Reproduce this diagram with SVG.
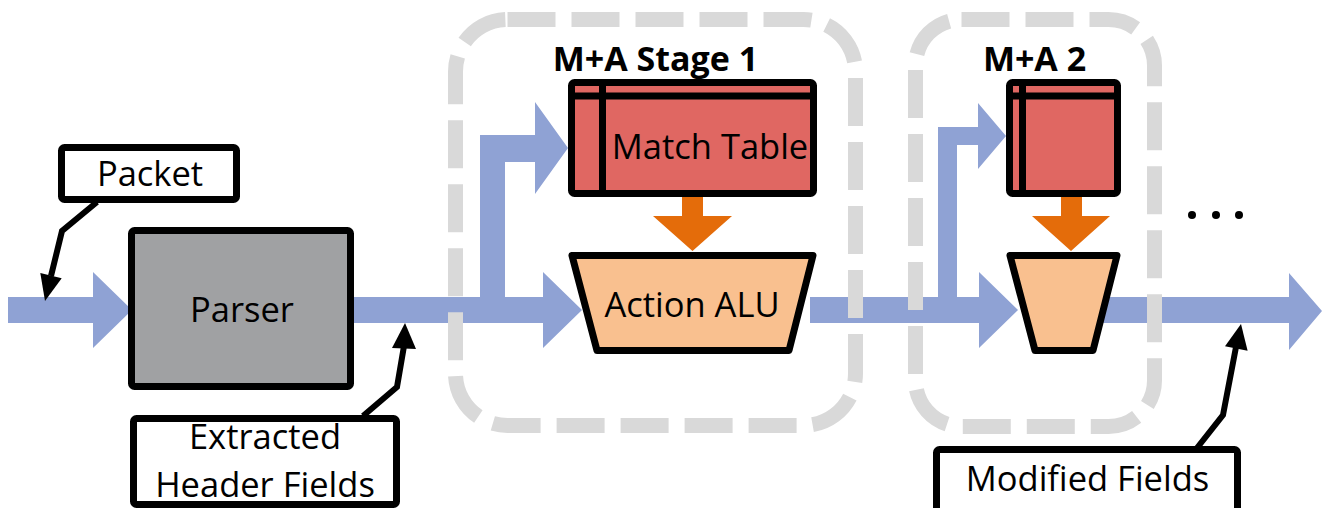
<svg xmlns="http://www.w3.org/2000/svg" width="1322" height="508" viewBox="0 0 1322 508">
  <style>
    .lbl { font-family: "Open Sans", "Liberation Sans", sans-serif; font-size: 34.5px; fill: #000; text-anchor: middle; }
    .hdr { font-family: "Open Sans", "Liberation Sans", sans-serif; font-size: 34px; font-weight: bold; fill: #000; text-anchor: middle; }
    .box { fill: #fff; stroke: #000; stroke-width: 7; stroke-linejoin: round; }
    .flow { fill: #8fa2d4; }
    .ctl { fill: #e46c0a; }
    .stage { fill: none; stroke: #d9d9d9; stroke-width: 15; stroke-dasharray: 48 16; }
    .table { fill: #e06762; stroke: #000; stroke-width: 7; stroke-linejoin: round; }
    .alu { fill: #f9c08f; stroke: #000; stroke-width: 7; stroke-linejoin: round; }
    .call { fill: none; stroke: #000; stroke-width: 6; stroke-linejoin: miter; }
    .head { fill: #000; }
  </style>

  <rect width="1322" height="508" fill="#fff"/>

  <!-- data-path connectors (blue) and table-to-ALU connectors (orange) -->
  <g id="connectors">
    <path class="flow" d="M8,297 H93 V272 L132,310 L93,348 V323 H8 Z"/>
    <path class="flow" d="M350,297 H480 V135 H535 V102 L568,148 L535,194 V162 H505 V297 H543 V272 L582,310 L543,348 V323 H350 Z"/>
    <path class="flow" d="M810,297 H938 V127 H978 V103 L1006,136 L978,169 V145 H957 V297 H979 V272 L1018,310 L979,348 V323 H810 Z"/>
    <path class="flow" d="M1090,297 H1289 V273 L1322,311 L1289,350 V323 H1090 Z"/>
    <path class="ctl" d="M682,195 H703 V216 H732 L692.5,251 L653,216 H682 Z"/>
    <path class="ctl" d="M1061,195 H1082 V216 H1110 L1071,251 L1032,216 H1061 Z"/>
  </g>

  <!-- match+action stage outlines -->
  <g id="stage1">
    <rect class="stage" x="455.5" y="19.5" width="400" height="406" rx="52"/>
    <text class="hdr" x="655.5" y="71">M+A Stage 1</text>
  </g>
  <g id="stage2">
    <rect class="stage" x="915.5" y="19.5" width="239" height="407" rx="46"/>
    <text class="hdr" x="1034.5" y="71">M+A 2</text>
  </g>

  <!-- parser -->
  <g id="parser">
    <rect x="131.5" y="230.5" width="219" height="156" rx="3" fill="#a0a1a3" stroke="#000" stroke-width="7"/>
    <text class="lbl" x="242" y="322">Parser</text>
  </g>

  <!-- stage 1 units -->
  <g id="match-table-1">
    <rect class="table" x="571.5" y="82.5" width="242" height="111" rx="3"/>
    <line x1="571.5" y1="96" x2="813.5" y2="96" stroke="#000" stroke-width="7"/>
    <line x1="602.5" y1="82.5" x2="602.5" y2="193.5" stroke="#000" stroke-width="7"/>
    <text class="lbl" x="710" y="159">Match Table</text>
  </g>
  <g id="action-alu-1">
    <polygon class="alu" points="572,255.5 813,255.5 789,350.5 597,350.5"/>
    <text class="lbl" x="692" y="317">Action ALU</text>
  </g>

  <!-- stage 2 units -->
  <g id="match-table-2">
    <rect class="table" x="1009.5" y="82.5" width="108" height="111" rx="3"/>
    <line x1="1009.5" y1="96" x2="1117.5" y2="96" stroke="#000" stroke-width="7"/>
    <line x1="1022.5" y1="82.5" x2="1022.5" y2="193.5" stroke="#000" stroke-width="7"/>
  </g>
  <g id="action-alu-2">
    <polygon class="alu" points="1010,255.5 1117,255.5 1093,350.5 1035,350.5"/>
  </g>

  <!-- continuation marks -->
  <g id="ellipsis" fill="#000">
    <circle cx="1192" cy="215" r="4"/>
    <circle cx="1216" cy="215" r="4"/>
    <circle cx="1239" cy="215" r="4"/>
  </g>

  <!-- callouts -->
  <g id="packet-callout">
    <rect class="box" x="61.5" y="147.5" width="175" height="52" rx="3"/>
    <text class="lbl" x="150" y="186">Packet</text>
    <polyline class="call" points="97,202 62,231 51,276"/>
    <polygon class="head" points="61.7,278.3 40.3,273.1 45,301"/>
  </g>
  <g id="extracted-callout">
    <polyline class="call" points="363,416 397,387 404,346"/>
    <polygon class="head" points="392,348 416,349 405,323"/>
    <rect class="box" x="133.5" y="418.5" width="263" height="86" rx="3"/>
    <text class="lbl" x="265" y="449">Extracted</text>
    <text class="lbl" x="265" y="497">Header Fields</text>
  </g>
  <g id="modified-callout">
    <polyline class="call" points="1197,448 1223,415 1236,347"/>
    <polygon class="head" points="1247.6,350.8 1225,346.3 1241,324"/>
    <rect class="box" x="936.5" y="449.5" width="301" height="70" rx="3"/>
    <text class="lbl" x="1087.5" y="491">Modified Fields</text>
  </g>
</svg>
